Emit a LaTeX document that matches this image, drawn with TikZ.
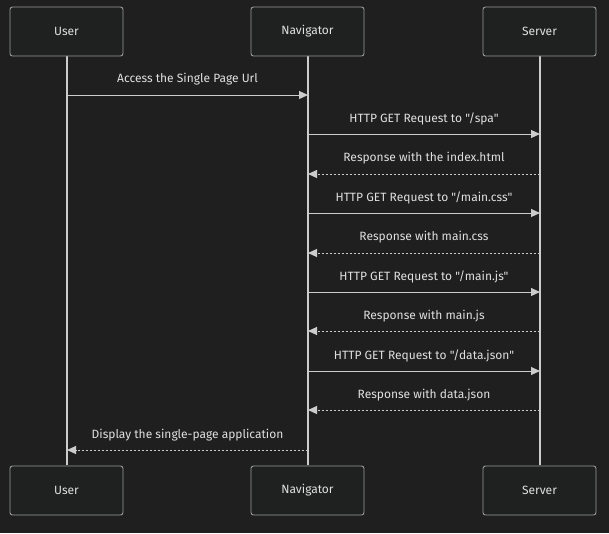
\documentclass[tikz,border=0pt]{standalone}
\usepackage{fontspec}
\newfontfamily\labfont{Fira Sans}
\usetikzlibrary{arrows.meta}
\definecolor{bg}{HTML}{1F1F1F}
\definecolor{boxfill}{HTML}{1F2020}
\definecolor{boxline}{HTML}{9A9A9A}
\definecolor{txt}{HTML}{E0E0E0}
\definecolor{ln}{HTML}{CCCCCC}
\tikzset{
  actor/.style={draw=boxline, fill=boxfill, rounded corners=2.5pt, line width=0.9pt,
    minimum width=113pt, minimum height=49pt, inner sep=0pt, text=txt,
    font=\labfont\fontsize{12}{14}\selectfont},
  life/.style={draw=ln, line width=1.2pt},
  msg/.style={draw=ln, line width=1pt, -{Triangle[length=9pt,width=8pt]}},
  reply/.style={msg, dash pattern=on 2pt off 2pt},
  lab/.style={text=txt, font=\labfont\fontsize{12}{14}\selectfont, inner sep=0pt}
}
\begin{document}
\begin{tikzpicture}[x=1pt,y=-1pt]
\fill[bg] (0,0) rectangle (609,533);
\useasboundingbox (0,0) rectangle (609,533);
% lifelines
\coordinate (u0) at (67,55); \coordinate (u1) at (67,465);
\coordinate (n0) at (308,55); \coordinate (n1) at (308,465);
\coordinate (s0) at (540,55); \coordinate (s1) at (540,465);
\draw[life] (u0) -- (u1);
\draw[life] (n0) -- (n1);
\draw[life] (s0) -- (s1);
% actors
\node[actor] (ut) at (66.5,31.5) {User};
\node[actor] (nt) at (307.5,31.5) {Navigator};
\node[actor] (st) at (539.5,31.5) {Server};
\node[actor] (ub) at (66.5,490.5) {User};
\node[actor] (nb) at (307.5,490.5) {Navigator};
\node[actor] (sb) at (539.5,490.5) {Server};
% message coordinates
\foreach \i/\y in {1/95,2/134,3/174,4/213,5/253,6/292,7/331,8/371,9/410,10/450}{
  \coordinate (u\i) at (67,\y);
  \coordinate (n\i) at (308,\y);
  \coordinate (s\i) at (540,\y);
}
\draw[msg] (u1) -- (n1);
\node[lab] (l1) at (187.5,79.5) {Access the Single Page Url};
\draw[msg] (n2) -- (s2);
\node[lab] (l2) at (424,118.5) {HTTP GET Request to "/spa"};
\draw[reply] (s3) -- (n3);
\node[lab] (l3) at (424,158.5) {Response with the index.html};
\draw[msg] (n4) -- (s4);
\node[lab] (l4) at (424,197.5) {HTTP GET Request to "/main.css"};
\draw[reply] (s5) -- (n5);
\node[lab] (l5) at (424,237.5) {Response with main.css};
\draw[msg] (n6) -- (s6);
\node[lab] (l6) at (424,276.5) {HTTP GET Request to "/main.js"};
\draw[reply] (s7) -- (n7);
\node[lab] (l7) at (424,316.5) {Response with main.js};
\draw[msg] (n8) -- (s8);
\node[lab] (l8) at (424,355.5) {HTTP GET Request to "/data.json"};
\draw[reply] (s9) -- (n9);
\node[lab] (l9) at (424,395.5) {Response with data.json};
\draw[reply] (n10) -- (u10);
\node[lab] (l10) at (187.5,435.5) {Display the single-page application};
\end{tikzpicture}
\end{document}
